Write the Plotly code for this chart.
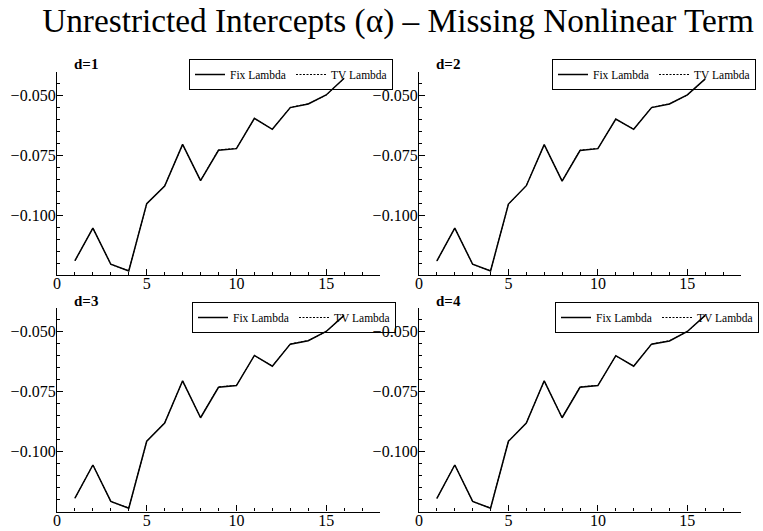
import plotly.graph_objects as go

# ---- data ----
periods = list(range(1, 17))

fix_d1 = [-0.1190, -0.1054, -0.1205, -0.1233, -0.0951, -0.0878, -0.0703, -0.0855,
          -0.0728, -0.0721, -0.0594, -0.0640, -0.0549, -0.0534, -0.0496, -0.0426]
tv_d1 = [-0.1191, -0.1053, -0.1206, -0.1232, -0.0952, -0.0877, -0.0704, -0.0854,
         -0.0726, -0.0720, -0.0595, -0.0639, -0.0548, -0.0533, -0.0497, -0.0427]

fix_d2 = [-0.1191, -0.1054, -0.1205, -0.1233, -0.0953, -0.0876, -0.0704, -0.0857,
          -0.0729, -0.0721, -0.0597, -0.0640, -0.0549, -0.0534, -0.0496, -0.0429]
tv_d2 = [-0.1192, -0.1053, -0.1206, -0.1232, -0.0954, -0.0875, -0.0705, -0.0856,
         -0.0727, -0.0720, -0.0598, -0.0639, -0.0548, -0.0533, -0.0497, -0.0430]

fix_d3 = [-0.1194, -0.1056, -0.1208, -0.1236, -0.0957, -0.0881, -0.0705, -0.0859,
          -0.0732, -0.0725, -0.0599, -0.0644, -0.0552, -0.0538, -0.0499, -0.0432]
tv_d3 = [-0.1195, -0.1055, -0.1209, -0.1235, -0.0958, -0.0880, -0.0706, -0.0858,
         -0.0730, -0.0724, -0.0600, -0.0643, -0.0551, -0.0537, -0.0500, -0.0433]

fix_d4 = [-0.1195, -0.1056, -0.1208, -0.1236, -0.0957, -0.0881, -0.0705, -0.0859,
          -0.0732, -0.0725, -0.0600, -0.0644, -0.0552, -0.0539, -0.0499, -0.0432]
tv_d4 = [-0.1196, -0.1055, -0.1209, -0.1235, -0.0958, -0.0880, -0.0706, -0.0858,
         -0.0730, -0.0724, -0.0601, -0.0643, -0.0551, -0.0538, -0.0500, -0.0433]

panel_labels = ["d=1", "d=2", "d=3", "d=4"]
series_names = ["Fix Lambda", "TV Lambda"]
y_tickvals = [-0.100, -0.075, -0.050]
x_range = [0, 18]
y_range = [-0.125, -0.040]

title_text = "Unrestricted Intercepts (α) – Missing Nonlinear Term"

# ---- layout geometry (pixels) ----
W, H = 763, 531
FONT = "Liberation Serif"

def px_x(p):
    return p / W

def px_y(p):
    return 1 - p / H

x_domains = [[px_x(57), px_x(380)], [px_x(419), px_x(741)]]
y_domains = [[px_y(275), px_y(72)], [px_y(511.5), px_y(307.7)]]

panels = [
    (fix_d1, tv_d1, 0, 0),
    (fix_d2, tv_d2, 1, 0),
    (fix_d3, tv_d3, 0, 1),
    (fix_d4, tv_d4, 1, 1),
]
legend_pos = [(189, 59), (552, 59), (192, 302), (555, 302)]
label_pos = [(72, 64), (434, 64), (72, 301), (434, 301)]

fig = go.Figure()
layout = dict(
    width=W, height=H,
    margin=dict(l=0, r=0, t=0, b=0, autoexpand=False),
    paper_bgcolor="white", plot_bgcolor="white",
    font=dict(family=FONT, color="black", size=16),
    showlegend=True,
    title=dict(text=title_text, x=398 / W, xanchor="center", y=px_y(20), yanchor="middle",
               xref="paper", yref="paper", font=dict(family=FONT, size=33.3, color="black")),
)
annotations = []

for i, (fix, tv, col, row) in enumerate(panels):
    n = i + 1
    xa = "x" if n == 1 else f"x{n}"
    ya = "y" if n == 1 else f"y{n}"
    leg = "legend" if n == 1 else f"legend{n}"
    fig.add_trace(go.Scatter(x=periods, y=fix, mode="lines", name=series_names[0],
                             line=dict(color="black", width=1.5), xaxis=xa, yaxis=ya,
                             legend=leg))
    fig.add_trace(go.Scatter(x=periods, y=tv, mode="lines", name=series_names[1],
                             line=dict(color="black", width=1.0, dash="2px,1.5px"),
                             xaxis=xa, yaxis=ya, legend=leg))
    xk = "xaxis" if n == 1 else f"xaxis{n}"
    yk = "yaxis" if n == 1 else f"yaxis{n}"
    layout[xk] = dict(
        domain=x_domains[col], anchor=ya, range=x_range,
        tickmode="linear", tick0=0, dtick=5,
        ticks="inside", ticklen=6, tickwidth=1, tickcolor="black",
        minor=dict(ticks="inside", ticklen=3, tickmode="linear", tick0=0, dtick=1,
                   tickcolor="black", tickwidth=1),
        showline=True, linecolor="black", linewidth=1.3, mirror=False,
        showgrid=False, zeroline=False, automargin=False,
        tickfont=dict(family=FONT, size=16, color="black"),
        ticklabelstandoff=-6,
    )
    layout[yk] = dict(
        domain=y_domains[row], anchor=xa, range=y_range,
        tickmode="array", tickvals=y_tickvals, tickformat=".3f",
        ticks="inside", ticklen=6, tickwidth=1, tickcolor="black",
        minor=dict(ticks="inside", ticklen=3, tickmode="linear", tick0=-0.05, dtick=0.005,
                   tickcolor="black", tickwidth=1),
        showline=True, linecolor="black", linewidth=1.3, mirror=False,
        showgrid=False, zeroline=False, automargin=False,
        tickfont=dict(family=FONT, size=16, color="black"),
        ticklabelstandoff=-3,
    )
    lx, ly = legend_pos[i]
    layout[leg] = dict(
        x=px_x(lx), y=px_y(ly), xref="paper", yref="paper",
        xanchor="left", yanchor="top", orientation="h",
        bgcolor="rgba(0,0,0,0)", bordercolor="black", borderwidth=1,
        font=dict(family=FONT, size=11.5, color="black"),
        itemwidth=30, tracegroupgap=0, entrywidth=56, entrywidthmode="pixels",
    )
    tx, ty = label_pos[i]
    annotations.append(dict(
        text=f"<b>{panel_labels[i]}</b>", x=px_x(tx), y=px_y(ty), xref="paper", yref="paper",
        xanchor="left", yanchor="middle", showarrow=False,
        font=dict(family=FONT, size=15, color="black"),
    ))

layout["annotations"] = annotations
fig.update_layout(**layout)
fig.write_html(
    "out.html",
    config={"displayModeBar": False},
    post_script="document.body.style.margin='0px';document.body.style.overflow='hidden';",
)
